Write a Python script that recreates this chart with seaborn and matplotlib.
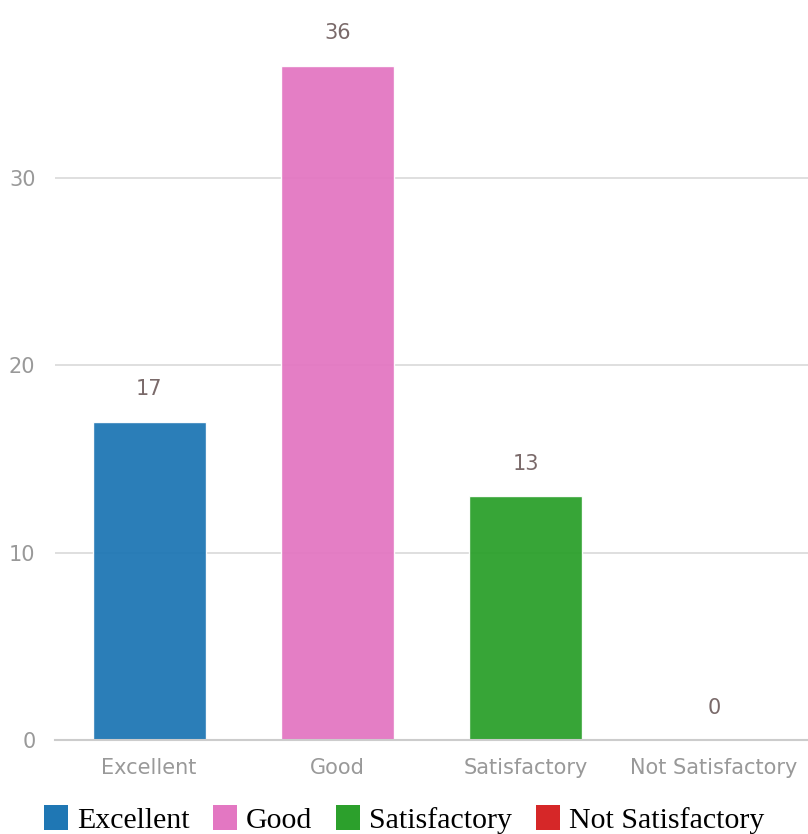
import matplotlib
matplotlib.use("Agg")
import matplotlib.pyplot as plt
import seaborn as sns
import pandas as pd
from matplotlib.patches import Patch

categories = ["Excellent", "Good", "Satisfactory", "Not Satisfactory"]
counts = [17, 36, 13, 0]
colors = ["#1f77b4", "#e377c2", "#2ca02c", "#d62728"]
y_ticks = [0, 10, 20, 30]

df = pd.DataFrame({"rating": categories, "count": counts})

sns.set_theme(style="white")
plt.rcParams["font.family"] = ["DejaVu Sans"]

fig = plt.figure(figsize=(8.08, 8.34), dpi=100)
ax = fig.add_axes([0.068, 0.1127, 0.932, 0.8873])

sns.barplot(data=df, x="rating", y="count", hue="rating", palette=colors,
            width=0.6, alpha=0.95, saturation=1, legend=False, ax=ax)

ax.set_ylim(0, 39.5)
ax.set_xlim(-0.5, 3.5)
ax.set_yticks(y_ticks)
ax.grid(axis="y", color="#d9d9d9", linewidth=1.2)
ax.set_axisbelow(True)
for s in ["left", "right", "top"]:
    ax.spines[s].set_visible(False)
ax.spines["bottom"].set_color("#cccccc")
ax.spines["bottom"].set_linewidth(1.5)
ax.tick_params(axis="x", colors="#cccccc", length=6, width=1, labelcolor="#999999",
               labelsize=15, pad=7)
ax.tick_params(axis="y", length=0, labelcolor="#999999", labelsize=15, pad=14)
ax.set_xlabel("")
ax.set_ylabel("")

for i, v in enumerate(counts):
    ax.text(i, v + 1.2, str(v), ha="center", va="bottom", color="#7a6a6a", fontsize=15)

handles = [Patch(facecolor=c, edgecolor="none") for c in colors]
fig.legend(handles, categories, loc="lower center", bbox_to_anchor=(0.5, -0.032),
           ncol=4, frameon=False, handlelength=0.8, handleheight=0.9,
           handletextpad=0.3, columnspacing=0.8, labelcolor="black",
           prop={"family": "Liberation Serif", "size": 21.5})

fig.savefig("out.png", dpi=100)
